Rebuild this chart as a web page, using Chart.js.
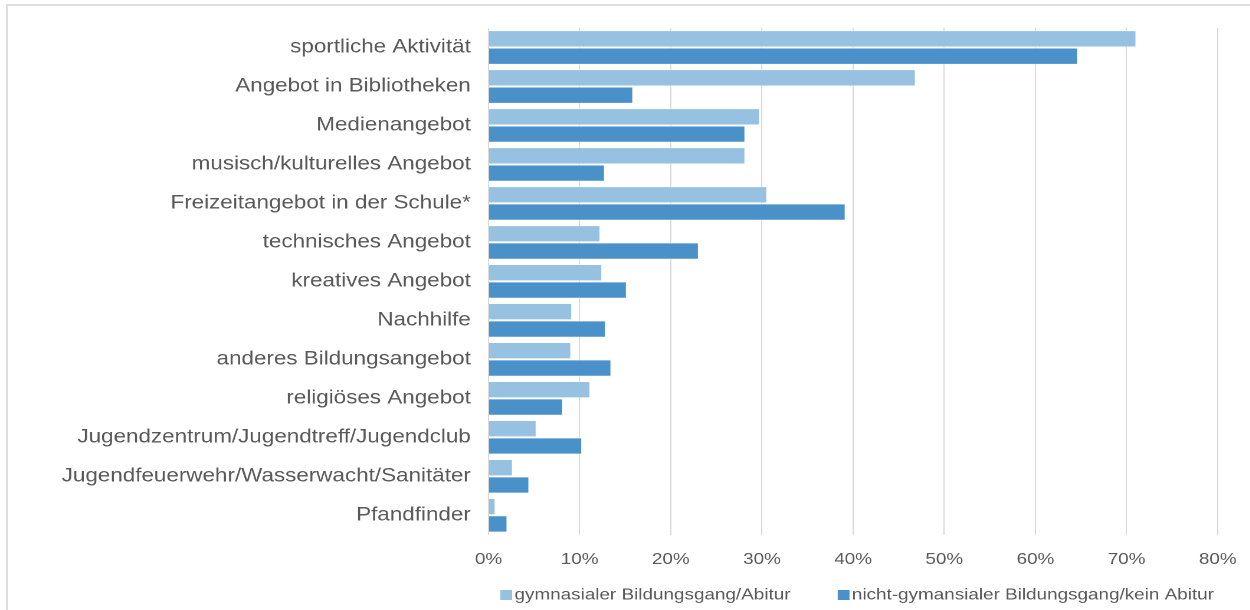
<!DOCTYPE html>
<html>
<head>
<meta charset="utf-8">
<script src="https://cdn.jsdelivr.net/npm/chart.js@4"></script>
<style>
    html, body { margin: 0; padding: 0; background: #fff; overflow: hidden; width: 1250px; height: 610px; }
    .frame { position: absolute; left: 6px; top: 4px; width: 1400px; height: 800px; border-left: 2px solid #dedede; border-top: 2px solid #dedede; }
    .wrap { position: absolute; left: 0; top: 0; transform: scaleX(1.18); transform-origin: 0 0; }
</style>
</head>
<body>
<div class="frame"></div>
<div class="wrap"><canvas id="chart" width="1063" height="610"></canvas></div>
<script>
const categories = [
    "sportliche Aktivität",
    "Angebot in Bibliotheken",
    "Medienangebot",
    "musisch/kulturelles Angebot",
    "Freizeitangebot in der Schule*",
    "technisches Angebot",
    "kreatives Angebot",
    "Nachhilfe",
    "anderes Bildungsangebot",
    "religiöses Angebot",
    "Jugendzentrum/Jugendtreff/Jugendclub",
    "Jugendfeuerwehr/Wasserwacht/Sanitäter",
    "Pfandfinder"
];
const gymnasial = [71.1, 46.9, 29.8, 28.2, 30.6, 12.3, 12.5, 9.2, 9.1, 11.2, 5.3, 2.7, 0.8];
const nichtGymnasial = [64.7, 15.9, 28.2, 12.8, 39.2, 23.1, 15.2, 12.9, 13.5, 8.2, 10.3, 4.5, 2.1];
const seriesNames = ["gymnasialer Bildungsgang/Abitur", "nicht-gymansialer Bildungsgang/kein Abitur"];
const seriesColors = ["#97c1e0", "#4a90c9"];

const font = "'Liberation Sans', Arial, sans-serif";
const textColor = "#595959";

// legend drawn by hand so it sits under the plot like the original
const bottomLegend = {
    id: "bottomLegend",
    afterDraw(chart) {
        const ctx = chart.ctx;
        ctx.save();
        ctx.font = "16px " + font;
        ctx.textBaseline = "middle";
        ctx.textAlign = "left";
        let x = 424;
        const y = 595;
        seriesNames.forEach((name, i) => {
            ctx.fillStyle = seriesColors[i];
            ctx.fillRect(x, y - 5, 10, 10);
            ctx.fillStyle = textColor;
            ctx.fillText(name, x + 12, y);
            x += 12 + ctx.measureText(name).width + 40;
        });
        ctx.restore();
    }
};

new Chart(document.getElementById("chart"), {
    type: "bar",
    data: {
        labels: categories,
        datasets: [
            { label: seriesNames[0], data: gymnasial, backgroundColor: seriesColors[0], borderColor: "rgba(255,255,255,0.45)", borderWidth: 1 },
            { label: seriesNames[1], data: nichtGymnasial, backgroundColor: seriesColors[1], borderColor: "rgba(255,255,255,0.45)", borderWidth: 1 }
        ]
    },
    options: {
        indexAxis: "y",
        responsive: false,
        animation: false,
        devicePixelRatio: 2,
        layout: { padding: { top: 28, right: 23, left: 0, bottom: 26 } },
        datasets: { bar: { categoryPercentage: 0.89, barPercentage: 1.0 } },
        scales: {
            x: {
                min: 0,
                max: 80,
                grid: { color: "#d9d9d9", lineWidth: 1, drawTicks: false },
                border: { display: false },
                ticks: { stepSize: 10, padding: 15, color: textColor, font: { family: font, size: 16 }, callback: v => v + "%" }
            },
            y: {
                afterFit: s => { s.width = 414; },
                grid: { display: false, drawTicks: false },
                border: { display: false },
                ticks: { padding: 15, color: textColor, font: { family: font, size: 19 } }
            }
        },
        plugins: {
            legend: { display: false },
            tooltip: { enabled: false }
        }
    },
    plugins: [bottomLegend]
});
</script>
</body>
</html>
